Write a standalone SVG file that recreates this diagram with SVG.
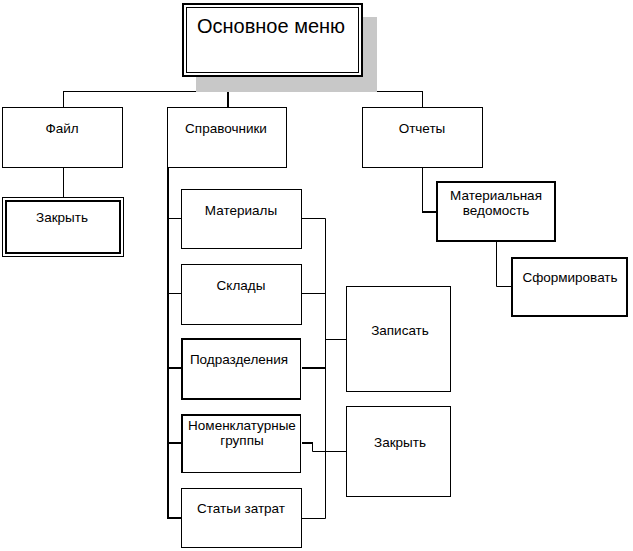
<svg xmlns="http://www.w3.org/2000/svg" width="633" height="551" viewBox="0 0 633 551">
<style>
text{font-family:"Liberation Sans",Arial,sans-serif;font-size:13.5px;fill:#000;text-anchor:middle}
.b{fill:#fff;stroke:#000;stroke-width:1}
.bt{fill:#fff;stroke:#000;stroke-width:2}
.c{fill:none;stroke:#000;stroke-width:1}
.ct{fill:none;stroke:#000;stroke-width:2}
</style>
<rect x="0" y="0" width="633" height="551" fill="#fff"/>
<g id="connectors">
<path class="c" d="M272.5 77 V91.5 M63.5 91.5 H422.5 M63.5 91 V108 M422.5 91 V108"/>
<path class="ct" d="M228 91 V108"/>
<path class="c" d="M63.5 167 V197"/>
<path class="ct" d="M168 167 V519 M167 443 H182 M167 368 H182 M167 518 H182"/>
<path class="c" d="M168 218.5 H182 M168 293.5 H182"/>
<path class="c" d="M302 218.5 H325.5 V518.5 H302 M302 293.5 H325.5 M325.5 339.5 H346"/>
<path class="ct" d="M302 368 H325"/>
<path class="ct" d="M302 443 H313"/>
<path class="c" d="M312.5 443 V451.5 H346"/>
<path class="c" d="M422.5 167 V211"/>
<path class="ct" d="M422 212 H437"/>
<path class="c" d="M496.5 241 V286.5 H512"/>
</g>
<g id="main">
<rect x="196" y="17" width="181" height="75" fill="#c8c8c8"/>
<rect x="183" y="4" width="179" height="72" fill="#fff" stroke="#000" stroke-width="2"/>
<rect x="186.5" y="7.5" width="172" height="65" fill="none" stroke="#000" stroke-width="1"/>
<text x="271" y="33" style="font-size:20px">Основное меню</text>
</g>
<g id="file">
<rect class="b" x="2.5" y="107.5" width="120" height="60"/>
<text x="62" y="133">Файл</text>
</g>
<g id="file-close">
<rect class="b" x="2.5" y="197.5" width="121" height="59"/>
<rect x="6" y="201" width="114" height="52" fill="none" stroke="#000" stroke-width="2"/>
<text x="62" y="222">Закрыть</text>
</g>
<g id="refs">
<rect class="b" x="167.5" y="107.5" width="119" height="60"/>
<text x="226" y="133">Справочники</text>
</g>
<g id="materials">
<rect class="b" x="181.5" y="189.5" width="120" height="59"/>
<text x="241" y="215">Материалы</text>
</g>
<g id="stores">
<rect class="b" x="181.5" y="264.5" width="120" height="60"/>
<text x="241" y="290">Склады</text>
</g>
<g id="depts">
<rect class="b" x="181.5" y="339.5" width="119" height="59"/>
<path class="ct" d="M301 339 H182 V399 H301"/>
<text x="239" y="364">Подразделения</text>
</g>
<g id="nomen">
<rect class="b" x="181.5" y="414.5" width="119" height="58"/>
<path class="ct" d="M301 415 H182 V473"/>
<text x="242" y="430">Номенклатурные</text>
<text x="242" y="445">группы</text>
</g>
<g id="costs">
<rect class="b" x="181.5" y="488.5" width="120" height="59"/>
<text x="241" y="513">Статьи затрат</text>
</g>
<g id="save">
<rect class="b" x="346.5" y="286.5" width="104" height="105"/>
<text x="400" y="335">Записать</text>
</g>
<g id="close2">
<rect class="b" x="346.5" y="406.5" width="104" height="90"/>
<text x="400" y="447">Закрыть</text>
</g>
<g id="reports">
<rect class="b" x="362.5" y="107.5" width="120" height="60"/>
<text x="422" y="133">Отчеты</text>
</g>
<g id="matvedom">
<rect class="bt" x="437" y="182" width="118" height="59"/>
<text x="496" y="200">Материальная</text>
<text x="496" y="215">ведомость</text>
</g>
<g id="form">
<rect class="bt" x="512" y="258" width="115" height="58"/>
<text x="570" y="282">Сформировать</text>
</g>
</svg>
